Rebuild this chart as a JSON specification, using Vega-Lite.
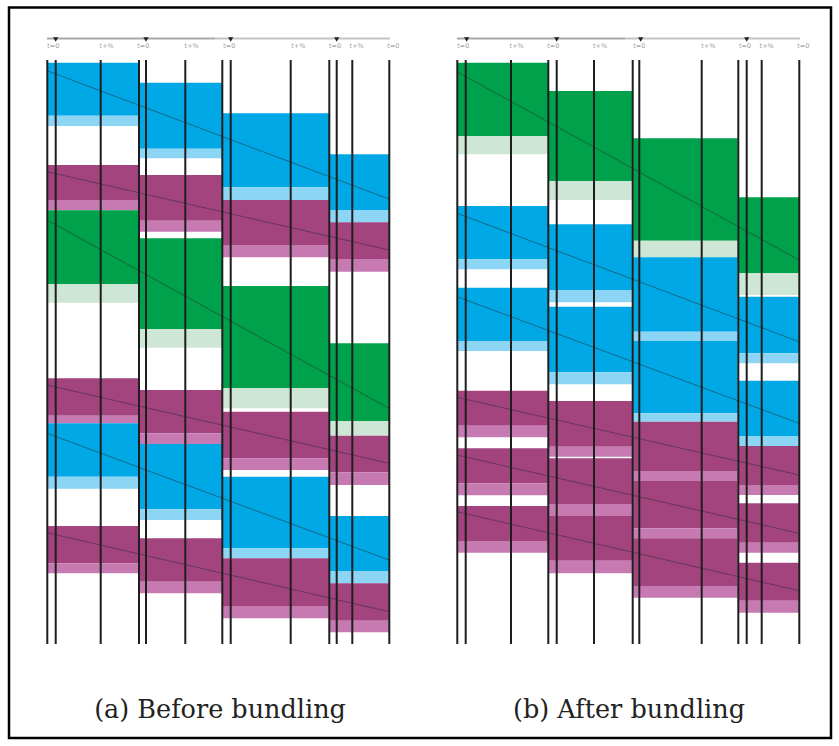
{
  "$schema": "https://vega.github.io/schema/vega-lite/v6.json",
  "autosize": {"type": "fit", "contains": "padding"},
  "width": 839,
  "height": 746,
  "padding": 0,
  "background": "white",
  "config": {"view": {"stroke": null}},
  "datasets": {
    "bands": [
      {"panel": "a", "x0": 47, "x1": 139, "y0": 62.7, "y1": 115.7, "kind": "blue"},
      {"panel": "a", "x0": 47, "x1": 139, "y0": 115.7, "y1": 126, "kind": "blue-light"},
      {"panel": "a", "x0": 47, "x1": 139, "y0": 165, "y1": 200, "kind": "purple"},
      {"panel": "a", "x0": 47, "x1": 139, "y0": 200, "y1": 210.3, "kind": "purple-light"},
      {"panel": "a", "x0": 47, "x1": 139, "y0": 210.3, "y1": 284.3, "kind": "green"},
      {"panel": "a", "x0": 47, "x1": 139, "y0": 284.3, "y1": 302.7, "kind": "green-light"},
      {"panel": "a", "x0": 47, "x1": 139, "y0": 378.3, "y1": 415.7, "kind": "purple"},
      {"panel": "a", "x0": 47, "x1": 139, "y0": 415.7, "y1": 423.3, "kind": "purple-light"},
      {"panel": "a", "x0": 47, "x1": 139, "y0": 423.3, "y1": 476.7, "kind": "blue"},
      {"panel": "a", "x0": 47, "x1": 139, "y0": 476.7, "y1": 488.7, "kind": "blue-light"},
      {"panel": "a", "x0": 47, "x1": 139, "y0": 526, "y1": 563.3, "kind": "purple"},
      {"panel": "a", "x0": 47, "x1": 139, "y0": 563.3, "y1": 573.3, "kind": "purple-light"},

      {"panel": "a", "x0": 140, "x1": 222, "y0": 82.7, "y1": 148.7, "kind": "blue"},
      {"panel": "a", "x0": 140, "x1": 222, "y0": 148.7, "y1": 158.3, "kind": "blue-light"},
      {"panel": "a", "x0": 140, "x1": 222, "y0": 175, "y1": 220.7, "kind": "purple"},
      {"panel": "a", "x0": 140, "x1": 222, "y0": 220.7, "y1": 231.7, "kind": "purple-light"},
      {"panel": "a", "x0": 140, "x1": 222, "y0": 238.3, "y1": 329, "kind": "green"},
      {"panel": "a", "x0": 140, "x1": 222, "y0": 329, "y1": 347.7, "kind": "green-light"},
      {"panel": "a", "x0": 140, "x1": 222, "y0": 390, "y1": 433.3, "kind": "purple"},
      {"panel": "a", "x0": 140, "x1": 222, "y0": 433.3, "y1": 444, "kind": "purple-light"},
      {"panel": "a", "x0": 140, "x1": 222, "y0": 444, "y1": 509.3, "kind": "blue"},
      {"panel": "a", "x0": 140, "x1": 222, "y0": 509.3, "y1": 520, "kind": "blue-light"},
      {"panel": "a", "x0": 140, "x1": 222, "y0": 538.3, "y1": 581.7, "kind": "purple"},
      {"panel": "a", "x0": 140, "x1": 222, "y0": 581.7, "y1": 593.3, "kind": "purple-light"},

      {"panel": "a", "x0": 222.7, "x1": 329, "y0": 113.3, "y1": 187.3, "kind": "blue"},
      {"panel": "a", "x0": 222.7, "x1": 329, "y0": 187.3, "y1": 200, "kind": "blue-light"},
      {"panel": "a", "x0": 222.7, "x1": 329, "y0": 200, "y1": 245, "kind": "purple"},
      {"panel": "a", "x0": 222.7, "x1": 329, "y0": 245, "y1": 257.3, "kind": "purple-light"},
      {"panel": "a", "x0": 222.7, "x1": 329, "y0": 286, "y1": 388.3, "kind": "green"},
      {"panel": "a", "x0": 222.7, "x1": 329, "y0": 388.3, "y1": 408.3, "kind": "green-light"},
      {"panel": "a", "x0": 222.7, "x1": 329, "y0": 411.7, "y1": 458.3, "kind": "purple"},
      {"panel": "a", "x0": 222.7, "x1": 329, "y0": 458.3, "y1": 470, "kind": "purple-light"},
      {"panel": "a", "x0": 222.7, "x1": 329, "y0": 476.7, "y1": 548.3, "kind": "blue"},
      {"panel": "a", "x0": 222.7, "x1": 329, "y0": 548.3, "y1": 558.3, "kind": "blue-light"},
      {"panel": "a", "x0": 222.7, "x1": 329, "y0": 558.3, "y1": 606, "kind": "purple"},
      {"panel": "a", "x0": 222.7, "x1": 329, "y0": 606, "y1": 618.3, "kind": "purple-light"},

      {"panel": "a", "x0": 330, "x1": 389, "y0": 154.3, "y1": 210, "kind": "blue"},
      {"panel": "a", "x0": 330, "x1": 389, "y0": 210, "y1": 222.3, "kind": "blue-light"},
      {"panel": "a", "x0": 330, "x1": 389, "y0": 222.3, "y1": 259, "kind": "purple"},
      {"panel": "a", "x0": 330, "x1": 389, "y0": 259, "y1": 271.7, "kind": "purple-light"},
      {"panel": "a", "x0": 330, "x1": 389, "y0": 343.3, "y1": 421, "kind": "green"},
      {"panel": "a", "x0": 330, "x1": 389, "y0": 421, "y1": 435.7, "kind": "green-light"},
      {"panel": "a", "x0": 330, "x1": 389, "y0": 435.7, "y1": 472.3, "kind": "purple"},
      {"panel": "a", "x0": 330, "x1": 389, "y0": 472.3, "y1": 485, "kind": "purple-light"},
      {"panel": "a", "x0": 330, "x1": 389, "y0": 516, "y1": 571, "kind": "blue"},
      {"panel": "a", "x0": 330, "x1": 389, "y0": 571, "y1": 583.3, "kind": "blue-light"},
      {"panel": "a", "x0": 330, "x1": 389, "y0": 583.3, "y1": 620.7, "kind": "purple"},
      {"panel": "a", "x0": 330, "x1": 389, "y0": 620.7, "y1": 632.3, "kind": "purple-light"},

      {"panel": "b", "x0": 457, "x1": 548, "y0": 62.7, "y1": 136, "kind": "green"},
      {"panel": "b", "x0": 457, "x1": 548, "y0": 136, "y1": 154.3, "kind": "green-light"},
      {"panel": "b", "x0": 457, "x1": 548, "y0": 206, "y1": 259.3, "kind": "blue"},
      {"panel": "b", "x0": 457, "x1": 548, "y0": 259.3, "y1": 269.3, "kind": "blue-light"},
      {"panel": "b", "x0": 457, "x1": 548, "y0": 287.7, "y1": 341, "kind": "blue"},
      {"panel": "b", "x0": 457, "x1": 548, "y0": 341, "y1": 351, "kind": "blue-light"},
      {"panel": "b", "x0": 457, "x1": 548, "y0": 390.7, "y1": 425.7, "kind": "purple"},
      {"panel": "b", "x0": 457, "x1": 548, "y0": 425.7, "y1": 437.3, "kind": "purple-light"},
      {"panel": "b", "x0": 457, "x1": 548, "y0": 448.3, "y1": 483.3, "kind": "purple"},
      {"panel": "b", "x0": 457, "x1": 548, "y0": 483.3, "y1": 495.3, "kind": "purple-light"},
      {"panel": "b", "x0": 457, "x1": 548, "y0": 506, "y1": 541, "kind": "purple"},
      {"panel": "b", "x0": 457, "x1": 548, "y0": 541, "y1": 552.7, "kind": "purple-light"},

      {"panel": "b", "x0": 549, "x1": 633, "y0": 91, "y1": 181, "kind": "green"},
      {"panel": "b", "x0": 549, "x1": 633, "y0": 181, "y1": 200, "kind": "green-light"},
      {"panel": "b", "x0": 549, "x1": 633, "y0": 224.3, "y1": 290, "kind": "blue"},
      {"panel": "b", "x0": 549, "x1": 633, "y0": 290, "y1": 302.3, "kind": "blue-light"},
      {"panel": "b", "x0": 549, "x1": 633, "y0": 306.7, "y1": 372.3, "kind": "blue"},
      {"panel": "b", "x0": 549, "x1": 633, "y0": 372.3, "y1": 384.3, "kind": "blue-light"},
      {"panel": "b", "x0": 549, "x1": 633, "y0": 401, "y1": 446.7, "kind": "purple"},
      {"panel": "b", "x0": 549, "x1": 633, "y0": 446.7, "y1": 456.7, "kind": "purple-light"},
      {"panel": "b", "x0": 549, "x1": 633, "y0": 458.3, "y1": 504, "kind": "purple"},
      {"panel": "b", "x0": 549, "x1": 633, "y0": 504, "y1": 516, "kind": "purple-light"},
      {"panel": "b", "x0": 549, "x1": 633, "y0": 516, "y1": 560.7, "kind": "purple"},
      {"panel": "b", "x0": 549, "x1": 633, "y0": 560.7, "y1": 573.3, "kind": "purple-light"},

      {"panel": "b", "x0": 633.3, "x1": 737.7, "y0": 138.3, "y1": 240.7, "kind": "green"},
      {"panel": "b", "x0": 633.3, "x1": 737.7, "y0": 240.7, "y1": 257.3, "kind": "green-light"},
      {"panel": "b", "x0": 633.3, "x1": 737.7, "y0": 257.3, "y1": 331.7, "kind": "blue"},
      {"panel": "b", "x0": 633.3, "x1": 737.7, "y0": 331.7, "y1": 341, "kind": "blue-light"},
      {"panel": "b", "x0": 633.3, "x1": 737.7, "y0": 341, "y1": 413.3, "kind": "blue"},
      {"panel": "b", "x0": 633.3, "x1": 737.7, "y0": 413.3, "y1": 421.7, "kind": "blue-light"},
      {"panel": "b", "x0": 633.3, "x1": 737.7, "y0": 421.7, "y1": 471, "kind": "purple"},
      {"panel": "b", "x0": 633.3, "x1": 737.7, "y0": 471, "y1": 481, "kind": "purple-light"},
      {"panel": "b", "x0": 633.3, "x1": 737.7, "y0": 481, "y1": 528.3, "kind": "purple"},
      {"panel": "b", "x0": 633.3, "x1": 737.7, "y0": 528.3, "y1": 538.3, "kind": "purple-light"},
      {"panel": "b", "x0": 633.3, "x1": 737.7, "y0": 538.3, "y1": 586, "kind": "purple"},
      {"panel": "b", "x0": 633.3, "x1": 737.7, "y0": 586, "y1": 597.7, "kind": "purple-light"},

      {"panel": "b", "x0": 739, "x1": 800, "y0": 197.3, "y1": 273.3, "kind": "green"},
      {"panel": "b", "x0": 739, "x1": 800, "y0": 273.3, "y1": 295, "kind": "green-light"},
      {"panel": "b", "x0": 739, "x1": 800, "y0": 296.7, "y1": 353.3, "kind": "blue"},
      {"panel": "b", "x0": 739, "x1": 800, "y0": 353.3, "y1": 363.3, "kind": "blue-light"},
      {"panel": "b", "x0": 739, "x1": 800, "y0": 380.7, "y1": 436, "kind": "blue"},
      {"panel": "b", "x0": 739, "x1": 800, "y0": 436, "y1": 446, "kind": "blue-light"},
      {"panel": "b", "x0": 739, "x1": 800, "y0": 446, "y1": 485, "kind": "purple"},
      {"panel": "b", "x0": 739, "x1": 800, "y0": 485, "y1": 495, "kind": "purple-light"},
      {"panel": "b", "x0": 739, "x1": 800, "y0": 503.3, "y1": 542.7, "kind": "purple"},
      {"panel": "b", "x0": 739, "x1": 800, "y0": 542.7, "y1": 552.7, "kind": "purple-light"},
      {"panel": "b", "x0": 739, "x1": 800, "y0": 562.7, "y1": 600.7, "kind": "purple"},
      {"panel": "b", "x0": 739, "x1": 800, "y0": 600.7, "y1": 612.7, "kind": "purple-light"}
    ],
    "flows": [
      {"panel": "a", "x0": 47, "y0": 70.7, "x1": 389, "y1": 199},
      {"panel": "a", "x0": 47, "y0": 171.7, "x1": 389, "y1": 250},
      {"panel": "a", "x0": 47, "y0": 220, "x1": 389, "y1": 408.3},
      {"panel": "a", "x0": 47, "y0": 385, "x1": 389, "y1": 463.3},
      {"panel": "a", "x0": 47, "y0": 433.3, "x1": 389, "y1": 560},
      {"panel": "a", "x0": 47, "y0": 532.7, "x1": 389, "y1": 611.7},
      {"panel": "b", "x0": 457, "y0": 71.7, "x1": 799, "y1": 260},
      {"panel": "b", "x0": 457, "y0": 213.3, "x1": 799, "y1": 341.7},
      {"panel": "b", "x0": 457, "y0": 296.7, "x1": 799, "y1": 423.3},
      {"panel": "b", "x0": 457, "y0": 397.3, "x1": 799, "y1": 475},
      {"panel": "b", "x0": 457, "y0": 455, "x1": 799, "y1": 533.3},
      {"panel": "b", "x0": 457, "y0": 511.7, "x1": 799, "y1": 590.7}
    ],
    "verticals": [
      {"x": 47.3}, {"x": 55.7}, {"x": 100.7}, {"x": 139}, {"x": 146}, {"x": 185.3}, {"x": 222.3},
      {"x": 230.7}, {"x": 290.7}, {"x": 329.3}, {"x": 336.7}, {"x": 352.3}, {"x": 389.3},
      {"x": 457.3}, {"x": 465.7}, {"x": 511}, {"x": 548.3}, {"x": 556.7}, {"x": 594}, {"x": 632.7},
      {"x": 639.3}, {"x": 701.7}, {"x": 738.3}, {"x": 746.7}, {"x": 761.7}, {"x": 799.3}
    ],
    "timeline": [
      {"x0": 47, "x1": 215, "tone": "dark"},
      {"x0": 215, "x1": 390, "tone": "light"},
      {"x0": 457, "x1": 625, "tone": "dark"},
      {"x0": 625, "x1": 800, "tone": "light"}
    ],
    "markers": [
      {"x": 55.7}, {"x": 146}, {"x": 230.7}, {"x": 336.7},
      {"x": 466.7}, {"x": 556.7}, {"x": 640.7}, {"x": 746.7}
    ],
    "ticklabels": [
      {"x": 53.3, "label": "t=0"}, {"x": 106.7, "label": "t+%"}, {"x": 143.3, "label": "t=0"},
      {"x": 191.7, "label": "t+%"}, {"x": 229.3, "label": "t=0"}, {"x": 298.3, "label": "t+%"},
      {"x": 335, "label": "t=0"}, {"x": 356.7, "label": "t+%"}, {"x": 393.3, "label": "t=0"},
      {"x": 463.3, "label": "t=0"}, {"x": 516.7, "label": "t+%"}, {"x": 553.3, "label": "t=0"},
      {"x": 600, "label": "t+%"}, {"x": 639.3, "label": "t=0"}, {"x": 708.3, "label": "t+%"},
      {"x": 745, "label": "t=0"}, {"x": 766.7, "label": "t+%"}, {"x": 803.3, "label": "t=0"}
    ],
    "captions": [
      {"x": 220, "y": 718, "text": "(a) Before bundling"},
      {"x": 629, "y": 718, "text": "(b) After bundling"}
    ],
    "frame": [
      {"x0": 9, "x1": 831, "y0": 7.5, "y1": 738}
    ]
  },
  "layer": [
    {
      "data": {"name": "frame"},
      "mark": {"type": "rect", "fill": null, "stroke": "black", "strokeWidth": 2.5},
      "encoding": {
        "x": {"field": "x0", "type": "quantitative", "scale": {"domain": [0, 839], "nice": false, "zero": false}, "axis": null},
        "x2": {"field": "x1"},
        "y": {"field": "y0", "type": "quantitative", "scale": {"domain": [0, 746], "nice": false, "zero": false, "reverse": true}, "axis": null},
        "y2": {"field": "y1"}
      }
    },
    {
      "data": {"name": "bands"},
      "mark": {"type": "rect"},
      "encoding": {
        "x": {"field": "x0", "type": "quantitative"},
        "x2": {"field": "x1"},
        "y": {"field": "y0", "type": "quantitative"},
        "y2": {"field": "y1"},
        "color": {
          "field": "kind",
          "type": "nominal",
          "legend": null,
          "scale": {
            "domain": ["blue", "blue-light", "purple", "purple-light", "green", "green-light"],
            "range": ["#00A9E6", "#8DD5F5", "#A3447F", "#C77AB2", "#00A14B", "#CDE6D6"]
          }
        }
      }
    },
    {
      "data": {"name": "flows"},
      "mark": {"type": "rule", "color": "#2a2a2a", "opacity": 0.5, "strokeWidth": 1},
      "encoding": {
        "x": {"field": "x0", "type": "quantitative"},
        "x2": {"field": "x1"},
        "y": {"field": "y0", "type": "quantitative"},
        "y2": {"field": "y1"}
      }
    },
    {
      "data": {"name": "verticals"},
      "mark": {"type": "rule", "color": "#1e1e1e", "strokeWidth": 2},
      "encoding": {
        "x": {"field": "x", "type": "quantitative"},
        "y": {"datum": 60, "type": "quantitative"},
        "y2": {"datum": 644}
      }
    },
    {
      "data": {"name": "timeline"},
      "mark": {"type": "rule", "strokeWidth": 2},
      "encoding": {
        "x": {"field": "x0", "type": "quantitative"},
        "x2": {"field": "x1"},
        "y": {"datum": 38.5, "type": "quantitative"},
        "stroke": {"field": "tone", "type": "nominal", "legend": null, "scale": {"domain": ["dark", "light"], "range": ["#a8a8a8", "#c4c4c4"]}}
      }
    },
    {
      "data": {"name": "markers"},
      "mark": {"type": "point", "shape": "triangle-down", "filled": true, "color": "#222", "size": 28, "opacity": 1},
      "encoding": {
        "x": {"field": "x", "type": "quantitative"},
        "y": {"datum": 39.5, "type": "quantitative"}
      }
    },
    {
      "data": {"name": "ticklabels"},
      "mark": {"type": "text", "fontSize": 6.5, "font": "DejaVu Sans", "color": "#a0a0a0", "align": "center", "baseline": "middle"},
      "encoding": {
        "x": {"field": "x", "type": "quantitative"},
        "y": {"datum": 46, "type": "quantitative"},
        "text": {"field": "label"}
      }
    },
    {
      "data": {"name": "captions"},
      "mark": {"type": "text", "fontSize": 25.5, "font": "DejaVu Serif", "color": "#222", "align": "center", "baseline": "alphabetic"},
      "encoding": {
        "x": {"field": "x", "type": "quantitative"},
        "y": {"field": "y", "type": "quantitative"},
        "text": {"field": "text"}
      }
    }
  ]
}
